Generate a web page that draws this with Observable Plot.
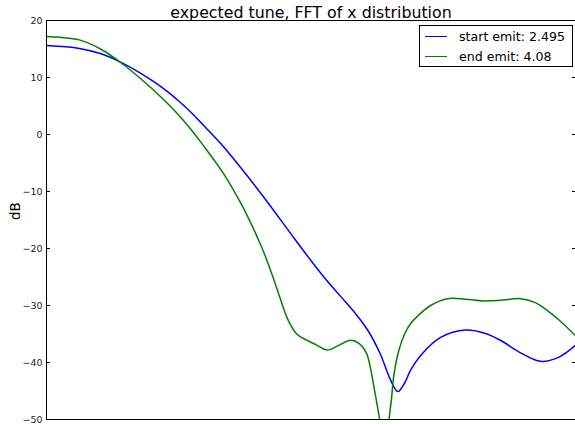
<!DOCTYPE html>
<html>
<head>
<meta charset="utf-8">
<script src="https://cdn.jsdelivr.net/npm/d3@7"></script>
<script src="https://cdn.jsdelivr.net/npm/@observablehq/plot@0.6"></script>
<style>
  html, body { margin: 0; padding: 0; background: #fff; }
  #wrap { position: relative; width: 575px; height: 424px; overflow: hidden; font-family: "DejaVu Sans", sans-serif; }
  #legend { position: absolute; left: 419px; top: 25px; width: 154px; height: 42px; box-sizing: border-box; border: 1px solid #000; background: #fff; }
  .row { position: absolute; left: 0; height: 16px; line-height: 16px; font-size: 12.6px; color: #000; white-space: nowrap; }
  .sw { position: absolute; left: 5px; top: 7px; width: 22px; height: 0; border-top: 1.5px solid; }
  .lbl { position: absolute; left: 39px; top: 0; }
</style>
</head>
<body>
<div id="wrap"></div>
<script>
// ---- data (x in normalized frequency units across the plotted range) ----
const startX  = [0.000, 0.062, 0.102, 0.142, 0.189, 0.225, 0.251, 0.272, 0.302, 0.335, 0.367, 0.414, 0.461, 0.499, 0.527, 0.556, 0.584, 0.607, 0.631, 0.650, 0.664, 0.677, 0.688, 0.707, 0.745, 0.792, 0.830, 0.858, 0.896, 0.934, 0.968, 1.000];
const startDb = [15.6, 15.1, 14.2, 12.6, 10.1, 7.8, 5.8, 4.0, 1.1, -2.2, -5.8, -11.4, -17.3, -22.0, -25.3, -28.4, -31.4, -34.3, -38.5, -43.0, -45.1, -43.6, -41.4, -38.8, -35.6, -34.3, -34.9, -36.1, -38.3, -39.8, -39.1, -37.0];

const endX  = [0.000, 0.026, 0.062, 0.102, 0.142, 0.189, 0.225, 0.251, 0.272, 0.297, 0.335, 0.367, 0.386, 0.405, 0.418, 0.431, 0.442, 0.457, 0.473, 0.490, 0.510, 0.531, 0.552, 0.575, 0.590, 0.605, 0.612, 0.620, 0.627, 0.631, 0.636, 0.640, 0.643, 0.647, 0.652, 0.657, 0.666, 0.677, 0.688, 0.701, 0.726, 0.758, 0.792, 0.826, 0.858, 0.896, 0.924, 0.947, 0.972, 1.000];
const endDb = [17.2, 17.05, 16.6, 15.0, 12.5, 8.9, 5.8, 3.3, 1.0, -2.0, -6.9, -12.0, -15.5, -19.4, -22.4, -25.8, -28.8, -32.6, -35.0, -36.0, -36.9, -37.8, -37.0, -36.1, -36.6, -38.4, -40.8, -44.8, -48.5, -51, -57, -66, -57, -50.5, -46.5, -42, -37.9, -35.0, -33.2, -31.9, -30.0, -28.8, -28.9, -29.2, -29.1, -28.8, -29.5, -30.9, -32.8, -35.3];

const seriesNames = ["start emit: 2.495", "end emit: 4.08"];
const seriesColors = ["#0000ff", "#008000"];
const yTicks = [-50, -40, -30, -20, -10, 0, 10, 20];
const titleText = "expected tune, FFT of x distribution";
const yLabel = "dB";

const startData = startX.map((x, i) => ({x, y: startDb[i]}));
const endData = endX.map((x, i) => ({x, y: endDb[i]}));
const fmt = d => d < 0 ? "\u2212" + (-d) : String(d);

const chart = Plot.plot({
  width: 575,
  height: 424,
  marginLeft: 46,
  marginRight: 0,
  marginTop: 20,
  marginBottom: 5,
  x: {domain: [0, 1], axis: null},
  y: {domain: [-50, 20], axis: null},
  style: {fontFamily: "DejaVu Sans, sans-serif", fontSize: "9.5px", color: "#000", background: "#fff", overflow: "visible"},
  marks: [
    Plot.line(startData, {x: "x", y: "y", stroke: seriesColors[0], strokeWidth: 1.5, curve: "catmull-rom", clip: true}),
    Plot.line(endData, {x: "x", y: "y", stroke: seriesColors[1], strokeWidth: 1.5, curve: "catmull-rom", clip: true}),
    Plot.axisY(yTicks, {anchor: "left", tickSize: 0, tickPadding: 4, tickFormat: fmt, label: null, fill: "#222"}),
    Plot.axisY(yTicks, {anchor: "left", tickSize: -4, tickFormat: () => "", label: null, stroke: "#000"}),
    Plot.axisY(yTicks, {anchor: "right", tickSize: -4, tickFormat: () => "", label: null, stroke: "#000"}),
    Plot.ruleX([0], {stroke: "#000", strokeWidth: 1}),
    Plot.ruleY([20], {stroke: "#000", strokeWidth: 1}),
    Plot.ruleY([-50], {stroke: "#000", strokeWidth: 1}),
    Plot.text([yLabel], {text: d => d, frameAnchor: "left", dx: -31, rotate: -90, fontSize: 13.5, fill: "#000"}),
    Plot.text([titleText], {text: d => d, frameAnchor: "top", lineAnchor: "bottom", dy: -3, fontSize: 15.8, fill: "#000"})
  ]
});

const wrap = document.getElementById("wrap");
wrap.appendChild(chart);

const legend = document.createElement("div");
legend.id = "legend";
seriesNames.forEach((name, i) => {
  const row = document.createElement("div");
  row.className = "row";
  row.style.top = (3 + i * 20) + "px";
  row.style.width = "100%";
  const sw = document.createElement("span");
  sw.className = "sw";
  sw.style.borderTopColor = seriesColors[i];
  const lbl = document.createElement("span");
  lbl.className = "lbl";
  lbl.textContent = name;
  row.appendChild(sw);
  row.appendChild(lbl);
  legend.appendChild(row);
});
wrap.appendChild(legend);
</script>
</body>
</html>
